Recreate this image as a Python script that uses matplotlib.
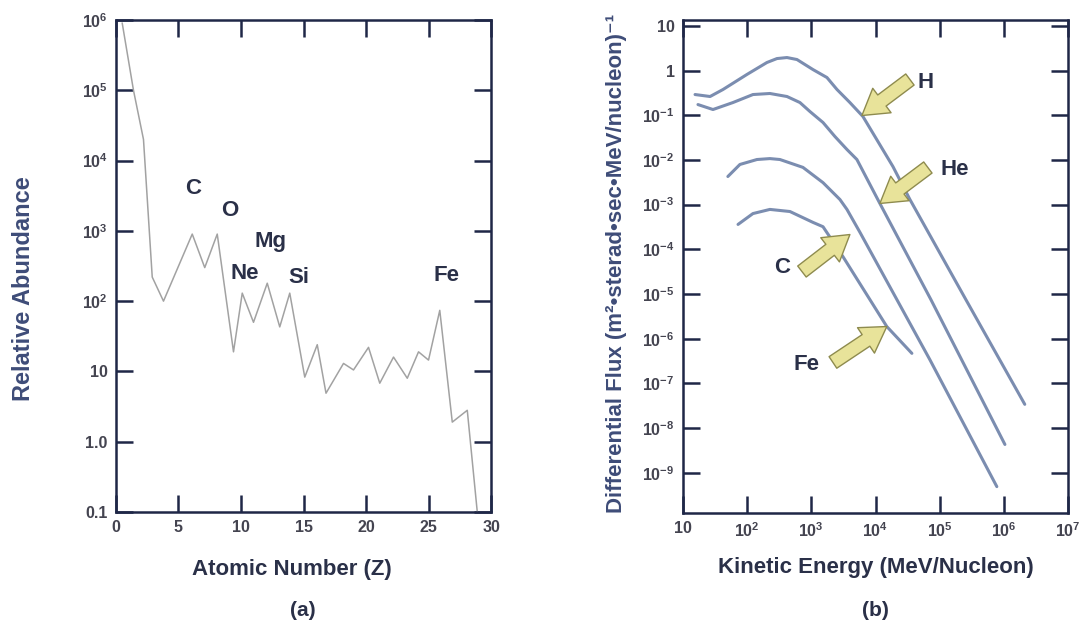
import matplotlib
matplotlib.use("Agg")
import matplotlib.pyplot as plt

# ---- data ----
# (a) relative abundance vs atomic number
z_vals = [0.5, 1.4, 2.2, 2.9, 3.8, 6.1, 7.1, 8.1, 9.4, 10.1, 11.0, 12.1, 13.1, 13.9,
          15.1, 16.1, 16.8, 18.2, 19.0, 20.2, 21.1, 22.2, 23.3, 24.2, 25.0, 25.9,
          26.9, 28.1, 28.9]
abundance = [9e5, 1e5, 2e4, 220, 100, 900, 300, 900, 19, 130, 50, 180, 43, 130,
             8.3, 24, 4.9, 13, 10.5, 22, 6.8, 16, 8, 19, 14.5, 74,
             1.9, 2.8, 0.1]
element_labels = ["C", "O", "Mg", "Ne", "Si", "Fe"]
element_z = [6.2, 9.1, 12.4, 10.3, 14.6, 26.4]
element_y = [4070, 1980, 716, 251, 214, 234]

# (b) differential flux vs kinetic energy
h_energy = [15.4, 26.4, 42, 99, 203, 291, 417, 597, 1060, 1750, 2510, 3990, 6370,
            18700, 34400, 256000, 2120000]
h_flux = [0.29, 0.262, 0.376, 0.815, 1.51, 1.85, 1.95, 1.76, 1.05, 0.697, 0.376, 0.192,
          0.0935, 0.0071, 1.3e-3, 7.5e-6, 3.4e-8]
he_energy = [17.1, 29.3, 60, 123, 226, 417, 664, 950, 1520, 2330, 3590, 5130, 11700,
             73000, 1040000]
he_flux = [0.173, 0.134, 0.192, 0.29, 0.306, 0.262, 0.192, 0.121, 0.0687, 0.0334,
           0.0171, 0.0102, 1.06e-3, 7.5e-6, 4.3e-9]
c_energy = [50, 77, 142, 226, 324, 740, 1520, 2790, 3590, 5720, 70300, 778000]
c_flux = [4.25e-3, 7.9e-3, 0.0102, 0.0107, 0.0102, 6.8e-3, 3.1e-3, 1.3e-3, 7.8e-4,
          2.4e-4, 3.4e-7, 4.9e-10]
fe_energy = [72, 123, 226, 464, 1060, 1520, 3100, 15000, 36900]
fe_flux = [3.6e-4, 6.3e-4, 7.8e-4, 7.0e-4, 4.0e-4, 3.2e-4, 6.9e-5, 1.87e-6, 4.7e-7]

species = ["H", "He", "C", "Fe"]
label_pos = [(61000, 0.54), (172000, 6.1e-3), (348, 3.9e-5), (853, 2.65e-7)]
arrow_tail = [(34400, 0.629), (65500, 6.76e-3), (714, 3.18e-5), (2170, 2.94e-7)]
arrow_tip = [(6140, 0.0984), (11700, 1.06e-3), (3990, 2.14e-4), (15000, 1.87e-6)]

# ---- style ----
plt.rcParams["font.family"] = ["Liberation Sans", "DejaVu Sans"]
plt.rcParams["mathtext.fontset"] = "custom"
plt.rcParams["mathtext.rm"] = "Liberation Sans"
plt.rcParams["mathtext.bf"] = "Liberation Sans:bold"

NAVY = "#1f2747"
TEXT = "#2a3048"
TICKTXT = "#444450"
BLUE_LABEL = "#3e4c78"
CURVE = "#7b8db0"


def sup(exp):
    return r"$\mathbf{10^{%s}}$" % exp


def style_axes(ax):
    for sp in ax.spines.values():
        sp.set_color(NAVY)
        sp.set_linewidth(1.8)
    ax.tick_params(which="major", direction="in", length=12, width=1.8, color=NAVY,
                   top=True, right=True, labelsize=11.5, labelcolor=TICKTXT, pad=6)
    ax.tick_params(which="minor", length=0)
    for lab in ax.get_xticklabels() + ax.get_yticklabels():
        lab.set_fontweight("bold")


fig = plt.figure(figsize=(10.89, 6.25), dpi=100)

# ---- panel (a) ----
ax1 = fig.add_axes([0.1065, 0.1808, 0.3444, 0.7872])
ax1.plot(z_vals, abundance, color="#a2a2a2", lw=1.1)
ax1.set_yscale("log")
ax1.set_xlim(0, 30)
ax1.set_ylim(0.1, 1e6)
ax1.set_xticks([0, 5, 10, 15, 20, 25, 30])
ax1.set_yticks([0.1, 1, 10, 1e2, 1e3, 1e4, 1e5, 1e6])
ax1.set_yticklabels(["0.1", "1.0", "10", sup(2), sup(3), sup(4), sup(5), sup(6)])
style_axes(ax1)
for name, zx, zy in zip(element_labels, element_z, element_y):
    ax1.text(zx, zy, name, fontsize=16, fontweight="bold", color=TEXT,
             ha="center", va="center")
ax1.set_xlabel("Atomic Number (Z)", fontsize=16, fontweight="bold", color=TEXT)
ax1.xaxis.set_label_coords(0.469, -0.095)
ax1.set_ylabel("Relative Abundance", fontsize=17, fontweight="bold", color=BLUE_LABEL)
ax1.yaxis.set_label_coords(-0.215, 0.453)

# ---- panel (b) ----
ax2 = fig.add_axes([0.6272, 0.1792, 0.3535, 0.7888])
for e, f in [(h_energy, h_flux), (he_energy, he_flux), (c_energy, c_flux),
             (fe_energy, fe_flux)]:
    ax2.plot(e, f, color=CURVE, lw=2.2, solid_capstyle="round", solid_joinstyle="round")
ax2.set_xscale("log")
ax2.set_yscale("log")
ax2.set_xlim(10, 1e7)
ax2.set_ylim(10 ** -9.9, 10 ** 1.13)
ax2.set_xticks([10, 1e2, 1e3, 1e4, 1e5, 1e6, 1e7])
ax2.set_xticklabels(["10", sup(2), sup(3), sup(4), sup(5), sup(6), sup(7)])
ax2.set_yticks([10, 1, 1e-1, 1e-2, 1e-3, 1e-4, 1e-5, 1e-6, 1e-7, 1e-8, 1e-9])
ax2.set_yticklabels(["10", "1"] + [sup("-%d" % k) for k in range(1, 10)])
style_axes(ax2)

for name, lp, tail, tip in zip(species, label_pos, arrow_tail, arrow_tip):
    ax2.annotate("", xy=tip, xytext=tail,
                 arrowprops=dict(arrowstyle="simple,head_length=0.9,head_width=1.1,tail_width=0.5",
                                 mutation_scale=20, fc="#e8e39a", ec="#8e8b4e", lw=1,
                                 shrinkA=0, shrinkB=0))
    ax2.text(lp[0], lp[1], name, fontsize=16, fontweight="bold", color=TEXT,
             ha="center", va="center")

ax2.set_xlabel("Kinetic Energy (MeV/Nucleon)", fontsize=16, fontweight="bold", color=TEXT)
ax2.xaxis.set_label_coords(0.5, -0.089)
ax2.set_ylabel("Differential Flux (m²•sterad•sec•MeV/nucleon)⁻¹", fontsize=16,
               fontweight="bold", color=BLUE_LABEL)
ax2.yaxis.set_label_coords(-0.145, 0.506)

fig.text(303 / 1089, 1 - 610 / 625, "(a)", fontsize=15, fontweight="bold", color=TEXT,
         ha="center", va="center")
fig.text(875 / 1089, 1 - 610 / 625, "(b)", fontsize=15, fontweight="bold", color=TEXT,
         ha="center", va="center")

fig.savefig("out.png", dpi=100, facecolor="white")
